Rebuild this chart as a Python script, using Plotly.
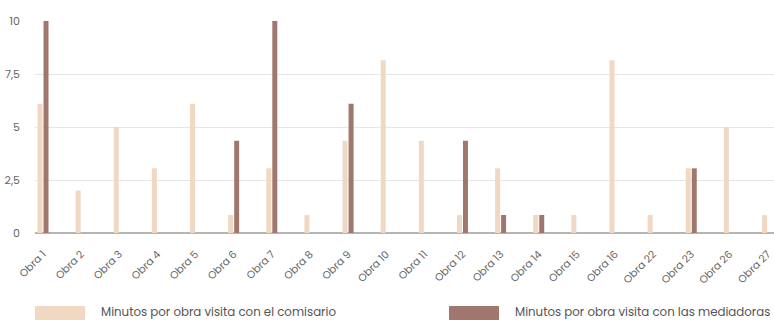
import plotly.graph_objects as go

# Minutes spent per artwork on each type of guided visit
obras = ["Obra 1", "Obra 2", "Obra 3", "Obra 4", "Obra 5", "Obra 6", "Obra 7",
         "Obra 8", "Obra 9", "Obra 10", "Obra 11", "Obra 12", "Obra 13", "Obra 14",
         "Obra 15", "Obra 16", "Obra 22", "Obra 23", "Obra 26", "Obra 27"]
min_comisario = [6.1, 2, 5, 3.05, 6.1, 0.85, 3.05, 0.85, 4.35, 8.15,
                 4.35, 0.85, 3.05, 0.85, 0.85, 8.15, 0.85, 3.05, 5, 0.85]
min_mediadoras = [10, 0, 0, 0, 0, 4.35, 10, 0, 6.1, 0,
                  0, 4.35, 0.85, 0.85, 0, 0, 0, 3.05, 0, 0]
y_ticks = [0, 2.5, 5, 7.5, 10]
y_tick_text = ["0", "2,5", "5", "7,5", "10"]

name_a = "Minutos por obra visita con el comisario"
name_b = "Minutos por obra visita con las mediadoras"
color_a = "#f1d8c3"
color_b = "#a0776c"
font_family = "Poppins, 'Open Sans', sans-serif"

W, H = 774, 320
L, T, PH = 35, 21, 212          # plot-area left edge, top edge and height in px
BASE = T + PH                   # baseline row in px


def px_x(x):
    return (x - L) / (W - L)


def px_y(y):
    return (BASE - y) / PH


fig = go.Figure()
fig.add_trace(go.Bar(x=obras, y=min_comisario, name=name_a,
                     marker=dict(color=color_a, line=dict(width=0)),
                     showlegend=False))
fig.add_trace(go.Bar(x=obras, y=min_mediadoras, name=name_b,
                     marker=dict(color=color_b, line=dict(width=0)),
                     showlegend=False))

# Custom legend: wide colour swatches with labels beneath the chart
legend_items = [(name_a, color_a, 35, 85, 99), (name_b, color_b, 449, 499, 513)]
for label, col, x0, x1, tx in legend_items:
    fig.add_shape(type="rect", xref="paper", yref="paper",
                  x0=px_x(x0), x1=px_x(x1), y0=px_y(330), y1=px_y(306),
                  line=dict(width=0), fillcolor=col)
    fig.add_annotation(text=label, xref="paper", yref="paper",
                       x=px_x(tx), y=px_y(312),
                       xanchor="left", yanchor="middle", showarrow=False,
                       font=dict(family=font_family, size=11.8, color="#555555"))

fig.update_layout(
    width=W, height=H,
    margin=dict(l=L, r=0, t=T, b=H - BASE),
    paper_bgcolor="white", plot_bgcolor="white",
    barmode="group", bargap=0.685, bargroupgap=0.17,
    font=dict(family=font_family, color="#666666"),
    showlegend=False,
)
fig.update_xaxes(
    type="category", range=[-0.21, 19.17], automargin=False,
    tickangle=-45, tickfont=dict(size=10.5, color="#666666"),
    ticklabelstandoff=12, ticklabelshift=0,
    showgrid=False, showline=False, ticks="",
)
fig.update_yaxes(
    range=[0, 10], tickvals=y_ticks, ticktext=y_tick_text, automargin=False,
    tickfont=dict(size=11, color="#666666"), ticklabelstandoff=14,
    showgrid=True, gridcolor="#e6e6e6", gridwidth=1,
    zeroline=True, zerolinecolor="#b5b5b5", zerolinewidth=1.5,
    showline=False, ticks="",
)

fig.write_html("out.html")
